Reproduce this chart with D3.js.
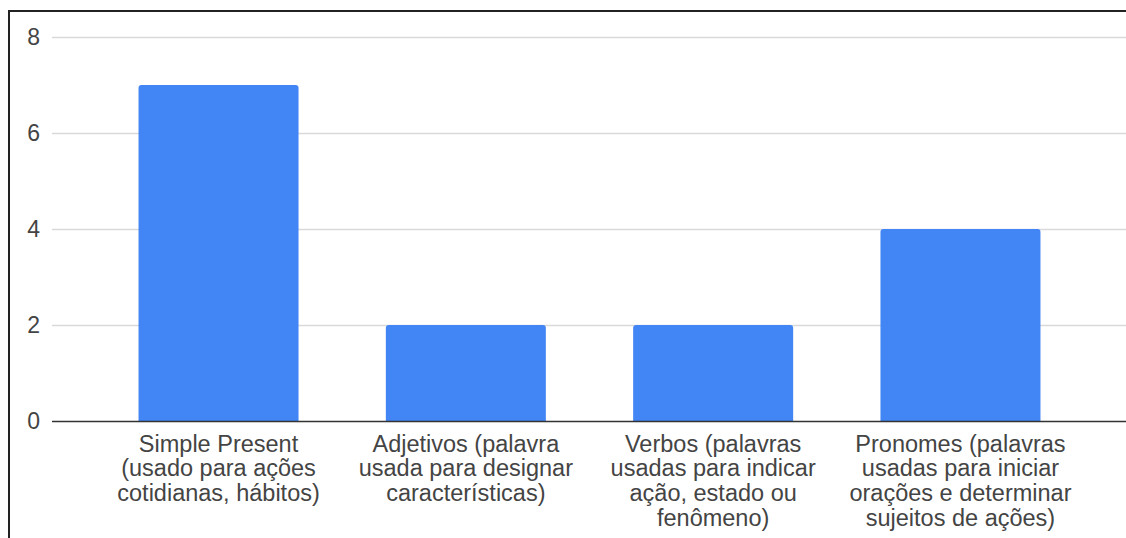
<!DOCTYPE html>
<html>
<head>
<meta charset="utf-8">
<script src="https://cdn.jsdelivr.net/npm/d3@7"></script>
<style>
  body { margin: 0; background: #fff; }
  svg { display: block; font-family: Arial, "Liberation Sans", sans-serif; }
</style>
</head>
<body>
<div id="chart"></div>
<script>
// Data
const categories = [
    ['Simple Present', '(usado para ações', 'cotidianas, hábitos)'],
    ['Adjetivos (palavra', 'usada para designar', 'características)'],
    ['Verbos (palavras', 'usadas para indicar', 'ação, estado ou', 'fenômeno)'],
    ['Pronomes (palavras', 'usadas para iniciar', 'orações e determinar', 'sujeitos de ações)']
]
const values = [7, 2, 2, 4]
const yTicks = [0, 2, 4, 6, 8]

// Dimensions
let dimensions = {
    width: 1126,
    height: 538,
    margin: { top: 37, bottom: 117, left: 52, right: 0 }
}
dimensions.ctrWidth = dimensions.width - dimensions.margin.left - dimensions.margin.right
dimensions.ctrHeight = dimensions.height - dimensions.margin.top - dimensions.margin.bottom

// Scales
const xScale = d3.scaleBand()
    .domain(d3.range(values.length))
    .range([95 - dimensions.margin.left, 1084 - dimensions.margin.left])
    .paddingInner(0.353)
    .paddingOuter(0.176)

const yScale = d3.scaleLinear()
    .domain([0, 8])
    .range([dimensions.ctrHeight, 0])

const svg = d3.select('#chart')
    .append('svg')
    .attr('width', dimensions.width)
    .attr('height', dimensions.height)

// frame (screenshot border)
svg.append('line')
    .attr('x1', 8).attr('x2', dimensions.width)
    .attr('y1', 11).attr('y2', 11)
    .attr('stroke', '#222').attr('stroke-width', 2)
svg.append('line')
    .attr('x1', 9).attr('x2', 9)
    .attr('y1', 10).attr('y2', dimensions.height)
    .attr('stroke', '#222').attr('stroke-width', 2)

const ctr = svg.append('g')
    .attr('transform', `translate(${dimensions.margin.left}, ${dimensions.margin.top})`)

// Gridlines
ctr.selectAll('.grid')
    .data(yTicks.filter(d => d !== 0))
    .join('line')
    .attr('x1', 0)
    .attr('x2', dimensions.ctrWidth)
    .attr('y1', d => yScale(d) + 0.5)
    .attr('y2', d => yScale(d) + 0.5)
    .attr('stroke', '#d9d9d9')
    .attr('stroke-width', 1.5)

// Y labels
ctr.selectAll('.ylab')
    .data(yTicks)
    .join('text')
    .attr('x', -12)
    .attr('y', d => yScale(d))
    .attr('dy', '0.35em')
    .attr('text-anchor', 'end')
    .attr('fill', '#444')
    .style('font-size', '23px')
    .text(d => d)

// Bars with small rounded tops
const r = 3
ctr.selectAll('path.bar')
    .data(values)
    .join('path')
    .attr('class', 'bar')
    .attr('fill', '#4285f4')
    .attr('d', (d, i) => {
        const x0 = xScale(i), x1 = x0 + xScale.bandwidth()
        const y0 = yScale(d), yb = yScale(0)
        return `M${x0},${yb}V${y0 + r}Q${x0},${y0} ${x0 + r},${y0}H${x1 - r}Q${x1},${y0} ${x1},${y0 + r}V${yb}Z`
    })

// Baseline
ctr.append('line')
    .attr('x1', 0)
    .attr('x2', dimensions.ctrWidth)
    .attr('y1', yScale(0) + 0.5)
    .attr('y2', yScale(0) + 0.5)
    .attr('stroke', '#333')
    .attr('stroke-width', 1.5)

// X labels
const xLabels = ctr.selectAll('.xlab')
    .data(categories)
    .join('text')
    .attr('text-anchor', 'middle')
    .attr('fill', '#444')
    .style('font-size', '23.5px')
    .attr('transform', (d, i) => `translate(${xScale(i) + xScale.bandwidth() / 2}, ${yScale(0) + 30.5})`)

xLabels.selectAll('tspan')
    .data(d => d)
    .join('tspan')
    .attr('x', 0)
    .attr('y', (d, j) => j * 24.7)
    .text(d => d)
</script>
</body>
</html>
